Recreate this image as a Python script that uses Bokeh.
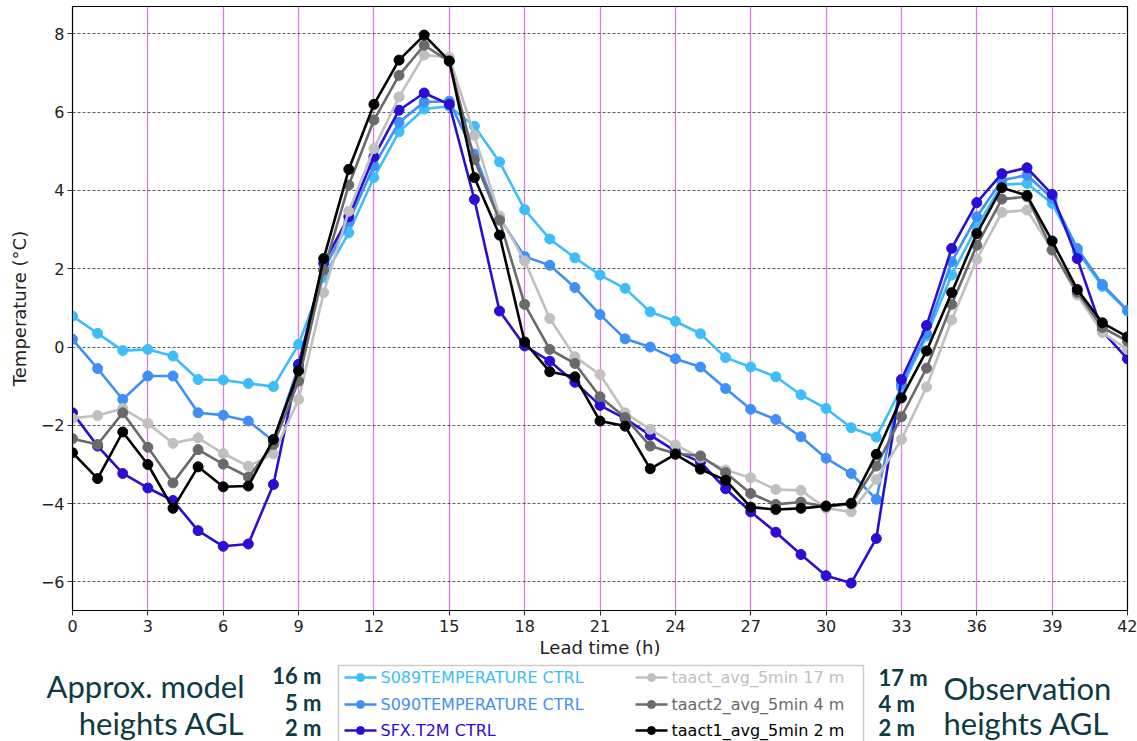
from bokeh.plotting import figure
from bokeh.models import Range1d, FixedTicker
from bokeh.layouts import column, row
from bokeh.core.properties import value
from bokeh.embed import file_html
from bokeh.resources import INLINE

# ---------------- data ----------------
lead_time = list(range(0, 43))

s089_ctrl = [0.79, 0.35, -0.09, -0.06, -0.23, -0.83, -0.84, -0.93, -1.01, 0.07,
             1.78, 2.92, 4.33, 5.50, 6.08, 6.15, 5.64, 4.73, 3.51, 2.76,
             2.28, 1.84, 1.50, 0.90, 0.66, 0.34, -0.27, -0.51, -0.76, -1.22,
             -1.57, -2.06, -2.30, -1.04, 0.28, 1.84, 3.07, 4.15, 4.18, 3.67,
             2.45, 1.55, 0.92]
s090_ctrl = [0.20, -0.55, -1.34, -0.74, -0.74, -1.68, -1.74, -1.89, -2.40, -0.50,
             1.97, 3.20, 4.63, 5.74, 6.26, 6.28, 4.93, 3.30, 2.31, 2.09,
             1.52, 0.83, 0.21, 0.00, -0.30, -0.51, -1.06, -1.59, -1.85, -2.29,
             -2.84, -3.23, -3.89, -0.95, 0.35, 2.18, 3.33, 4.26, 4.39, 3.80,
             2.52, 1.60, 0.94]
t2m_ctrl = [-1.68, -2.53, -3.23, -3.60, -3.92, -4.69, -5.09, -5.03, -3.51, -0.44,
            2.14, 3.33, 4.86, 6.05, 6.49, 6.20, 3.77, 0.92, 0.03, -0.36,
            -0.90, -1.49, -1.83, -2.25, -2.66, -2.94, -3.62, -4.21, -4.73, -5.30,
            -5.84, -6.03, -4.89, -0.83, 0.55, 2.52, 3.69, 4.43, 4.58, 3.90,
            2.26, 0.40, -0.30]
obs_17m = [-1.82, -1.75, -1.57, -1.95, -2.46, -2.32, -2.72, -3.04, -2.73, -1.34,
           1.39, 3.47, 5.07, 6.39, 7.46, 7.40, 5.41, 3.35, 2.20, 0.73,
           -0.25, -0.70, -1.68, -2.10, -2.50, -2.83, -3.14, -3.34, -3.64, -3.66,
           -4.12, -4.21, -3.38, -2.36, -1.02, 0.69, 2.24, 3.44, 3.50, 2.48,
           1.33, 0.37, -0.06]
obs_4m = [-2.34, -2.49, -1.68, -2.56, -3.47, -2.62, -2.99, -3.32, -2.49, -0.87,
          1.97, 4.14, 5.80, 6.94, 7.71, 7.30, 4.79, 3.24, 1.09, -0.06,
          -0.42, -1.27, -1.80, -2.53, -2.72, -2.78, -3.21, -3.74, -4.02, -3.96,
          -4.08, -4.01, -3.04, -1.78, -0.54, 1.09, 2.60, 3.78, 3.84, 2.48,
          1.40, 0.50, 0.15]
obs_2m = [-2.70, -3.36, -2.17, -3.00, -4.12, -3.06, -3.57, -3.55, -2.36, -0.61,
          2.26, 4.54, 6.20, 7.33, 7.97, 7.31, 4.33, 2.86, 0.13, -0.63,
          -0.76, -1.89, -2.02, -3.11, -2.74, -3.12, -3.40, -4.09, -4.15, -4.12,
          -4.06, -3.99, -2.74, -1.30, -0.10, 1.39, 2.90, 4.07, 3.87, 2.71,
          1.47, 0.62, 0.26]

series_names = ["S089TEMPERATURE CTRL", "S090TEMPERATURE CTRL", "SFX.T2M CTRL",
                "taact_avg_5min 17 m", "taact2_avg_5min 4 m", "taact1_avg_5min 2 m"]
series_values = [s089_ctrl, s090_ctrl, t2m_ctrl, obs_17m, obs_4m, obs_2m]
series_colors = ["#3dbdfa", "#3f8ff7", "#2a0fd2", "#c0c0c0", "#6a6a6a", "#000000"]

x_ticks = list(range(0, 43, 3))
y_ticks = [-6, -4, -2, 0, 2, 4, 6, 8]

model_heights = ["16 m", "5 m", "2 m"]
obs_heights = ["17 m", "4 m", "2 m"]
model_title = ["Approx. model", "heights AGL"]
obs_title = ["Observation", "heights AGL"]

# ---------------- main figure ----------------
W = 1137
H_MAIN = 660
H_LEG = 741 - H_MAIN
FL, FR, FT = 72, 10, 6
FB = H_MAIN - 611

p = figure(width=W, height=H_MAIN, output_backend="svg", toolbar_location=None,
           x_range=Range1d(0, 42), y_range=Range1d(-6.73, 8.70),
           min_border_left=FL, min_border_right=FR, min_border_top=FT,
           min_border_bottom=FB, background_fill_color="white",
           border_fill_color="white")
p.outline_line_color = "black"
p.outline_line_width = 1.2

tick_font = "DejaVu Sans"
for ax in (p.xaxis[0], p.yaxis[0]):
    ax.major_label_text_font = tick_font
    ax.major_label_text_font_size = "16px"
    ax.major_label_text_color = "#222222"
    ax.axis_label_text_font = tick_font
    ax.axis_label_text_font_size = "18px"
    ax.axis_label_text_font_style = "normal"
    ax.axis_label_text_color = "#222222"
    ax.major_tick_out = 5
    ax.major_tick_in = 0
    ax.minor_tick_out = 0
    ax.minor_tick_in = 0
    ax.axis_line_color = "black"
    ax.major_tick_line_color = "#333333"

p.xaxis.ticker = FixedTicker(ticks=x_ticks)
p.yaxis.ticker = FixedTicker(ticks=y_ticks)
p.yaxis.major_label_overrides = {v: (("\u2212" + str(-v)) if v < 0 else str(v)) for v in y_ticks}
p.xaxis.axis_label = "Lead time (h)"
p.yaxis.axis_label = "Temperature (\u00b0C)"
p.xaxis.major_label_standoff = 4
p.xaxis.axis_label_standoff = 2
p.yaxis.major_label_standoff = 3
p.yaxis.axis_label_standoff = 8

p.xgrid.grid_line_color = "#e07ae2"
p.xgrid.grid_line_width = 1.3
p.ygrid.grid_line_color = "#333333"
p.ygrid.grid_line_width = 0.8
p.ygrid.grid_line_dash = "3 2"

for name, vals, col in zip(series_names, series_values, series_colors):
    p.line(lead_time, vals, line_color=col, line_width=2.6)
    p.scatter(lead_time, vals, size=10, fill_color=col, line_color=col)

# ---------------- legend strip (canvas-pixel coordinates) ----------------
q = figure(width=W, height=H_LEG, output_backend="svg", toolbar_location=None,
           x_range=Range1d(0, W), y_range=Range1d(741, H_MAIN),
           x_axis_type=None, y_axis_type=None,
           min_border_left=0, min_border_right=0, min_border_top=0,
           min_border_bottom=0, background_fill_color="white",
           border_fill_color="white")
q.outline_line_color = None
q.grid.visible = False

# legend frame
q.quad(left=[338], right=[863], top=[665], bottom=[748], fill_alpha=0,
       line_color="#cccccc", line_width=1.5)

col_x = [344, 635]
row_y = [677, 704, 730]
for i, (name, col) in enumerate(zip(series_names, series_colors)):
    c, r = divmod(i, 3)
    x0 = col_x[c]
    y0 = row_y[r]
    q.line([x0, x0 + 32], [y0, y0], line_color=col, line_width=2.6)
    q.scatter([x0 + 16], [y0], size=8, fill_color=col, line_color=col)
    q.text([x0 + 36], [y0], text=[name], text_color=col,
           text_font=value("DejaVu Sans"), text_font_size="16px",
           text_baseline="middle", text_align="left")

teal = "#0e3a44"
side_font = value("Lato")
q.text([244, 244], [685, 722], text=model_title, text_align="right",
       text_baseline="middle", text_font=side_font, text_font_size="31px",
       text_color=teal)
q.text([321, 321, 321], [675, 702, 727], text=model_heights, text_align="right",
       text_baseline="middle", text_font=side_font, text_font_size="22px",
       text_font_style="bold", text_color=teal)
q.text([878, 878, 878], [677, 703, 727], text=obs_heights, text_align="left",
       text_baseline="middle", text_font=side_font, text_font_size="22px",
       text_font_style="bold", text_color=teal)
q.text([943, 943], [687, 722], text=obs_title, text_align="left",
       text_baseline="middle", text_font=side_font, text_font_size="31px",
       text_color=teal)

layout = column(p, row(q, spacing=0), spacing=0)
open("out.html", "w").write(file_html(layout, INLINE))
